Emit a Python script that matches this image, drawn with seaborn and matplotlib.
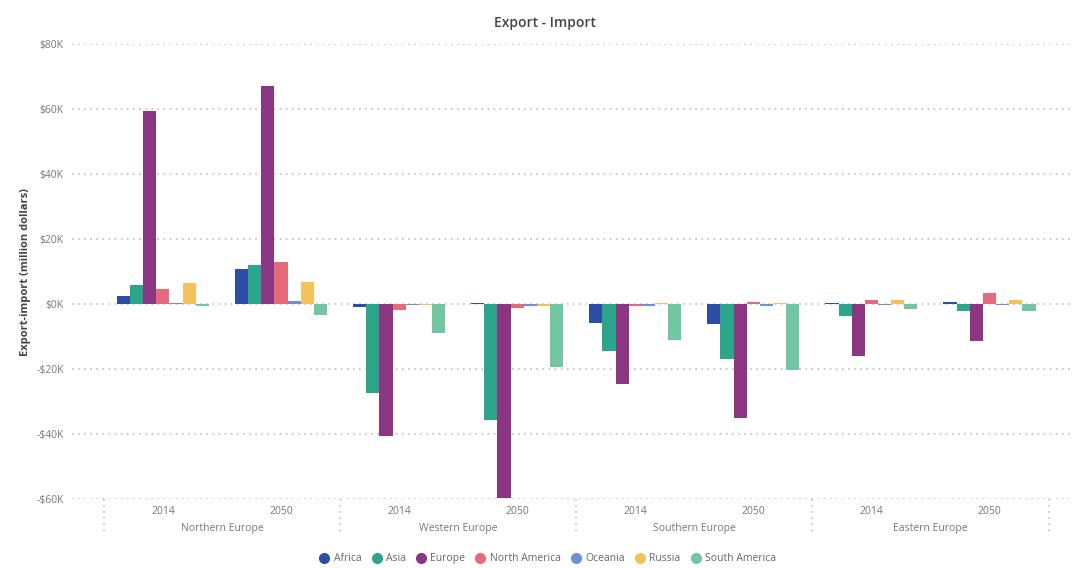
import matplotlib
matplotlib.use("Agg")
import matplotlib.pyplot as plt
import matplotlib.transforms as mtransforms
from matplotlib.lines import Line2D
from matplotlib.ticker import FuncFormatter, MultipleLocator
import seaborn as sns
import pandas as pd

# ---- data ----
regions = ["Northern Europe", "Western Europe", "Southern Europe", "Eastern Europe"]
years = ["2014", "2050"]
continents = ["Africa", "Asia", "Europe", "North America", "Oceania", "Russia", "South America"]
# values in million dollars, order: NE14, NE50, WE14, WE50, SE14, SE50, EE14, EE50
africa        = [2500, 10800, -800, 300, -5700, -6200, 300, 700]
asia          = [5900, 12100, -27500, -35600, -14500, -16800, -3600, -2000]
europe        = [59500, 67200, -40500, -59800, -24700, -35000, -16000, -11500]
north_america = [4700, 12900, -1800, -1300, -500, 700, 1300, 3500]
oceania       = [300, 900, -300, -500, -500, -700, -300, -200]
russia        = [6400, 6800, -300, -500, 300, 300, 1200, 1200]
south_america = [-500, -3400, -9000, -19500, -11000, -20300, -1400, -2300]

series = [africa, asia, europe, north_america, oceania, russia, south_america]
colors = ["#2C4DA5", "#2BA68A", "#8B3682", "#E56B7C", "#6C8FD6", "#F5C15A", "#72C6A2"]

groups = [f"{r}|{y}" for r in regions for y in years]
rows = []
for cont, vals in zip(continents, series):
    for g, v in zip(groups, vals):
        rows.append({"group": g, "continent": cont, "value": v})
df = pd.DataFrame(rows)

# ---- plot ----
sns.set_style("white")
plt.rcParams["font.family"] = ["Open Sans", "DejaVu Sans"]

fig = plt.figure(figsize=(10.73, 5.68), dpi=100)
ax = fig.add_axes([0.0671, 0.1215, 0.9299, 0.801])

sns.barplot(data=df, x="group", y="value", hue="continent", order=groups,
            hue_order=continents, palette=colors, width=0.78, saturation=1,
            ax=ax, legend=False, errorbar=None, linewidth=0, edgecolor="none")

ax.set_ylim(-60000, 80000)
ax.set_xlim(-0.77, 7.68)
ax.yaxis.set_major_locator(MultipleLocator(20000))

def fmt(v, pos):
    k = int(round(v / 1000))
    return f"-${abs(k)}K" if k < 0 else f"${k}K"
ax.yaxis.set_major_formatter(FuncFormatter(fmt))

ax.grid(False)
for yv in range(-60000, 80001, 20000):
    ax.axhline(yv, color="#b5b5b5", lw=1.1, ls=(0, (1, 3)), zorder=0)

for s in ax.spines.values():
    s.set_visible(False)

ax.tick_params(axis="both", length=0, colors="#777777", labelsize=7.5)
ax.tick_params(axis="y", pad=6)
ax.tick_params(axis="x", pad=5)
ax.set_xticks(range(len(groups)))
ax.set_xticklabels([g.split("|")[1] for g in groups])

ax.set_xlabel("")
ax.set_ylabel("Export-import (million dollars)", fontsize=8, color="#444444",
              fontweight="bold", labelpad=4)

trans = mtransforms.blended_transform_factory(ax.transData, ax.transAxes)
for i, r in enumerate(regions):
    ax.text(2 * i + 0.5, -0.064, r, transform=trans, ha="center", va="center",
            fontsize=7.5, color="#777777")
for xs in [-0.5, 1.5, 3.5, 5.5, 7.5]:
    ax.plot([xs, xs], [0.0, -0.08], transform=trans, clip_on=False,
            color="#b5b5b5", lw=1.1, ls=(0, (1, 3)))

fig.text(0.508, 0.96, "Export - Import", ha="center", va="center",
         fontsize=10, color="#444444", fontweight="semibold")

handles = [Line2D([0], [0], marker="o", ls="", color=c, markersize=7) for c in colors]
fig.legend(handles, continents, loc="center", bbox_to_anchor=(0.508, 0.016),
           ncol=7, frameon=False, fontsize=7.5, handletextpad=-0.1,
           columnspacing=0.45, labelcolor="#666666", borderaxespad=0)

fig.savefig("out.png", dpi=100)
